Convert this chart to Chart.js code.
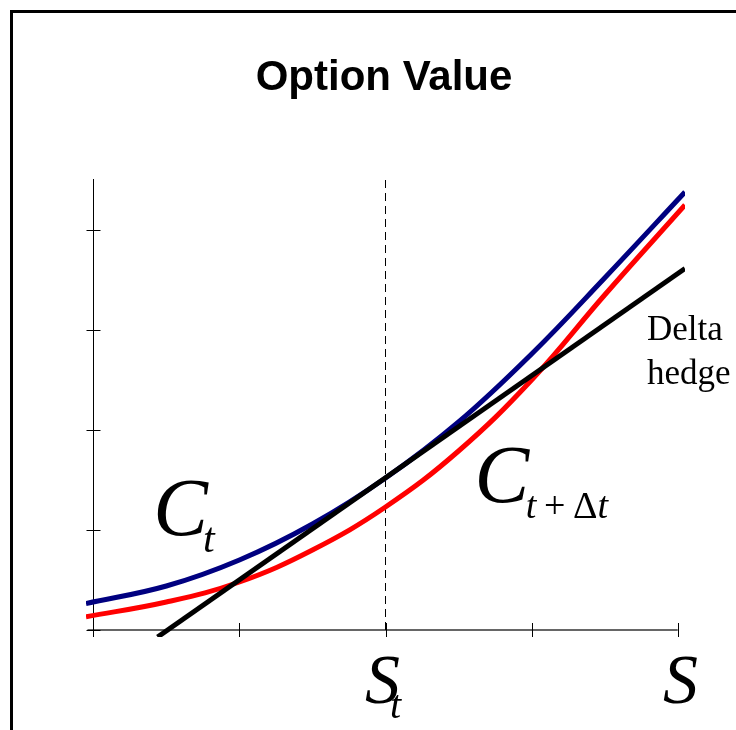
<!DOCTYPE html>
<html>
<head>
<meta charset="utf-8">
<script src="https://cdn.jsdelivr.net/npm/chart.js@4/dist/chart.umd.min.js"></script>
<style>
  html, body { margin: 0; padding: 0; background: #fff; }
  #wrap { width: 736px; height: 730px; }
</style>
</head>
<body>
<div id="wrap"><canvas id="optionChart" width="736" height="730"></canvas></div>
<script>
// values (x: S in tick units, y: option value in tick units)
const blueX = [-0.05, 0.5, 1.0, 1.5, 2.0, 2.5, 3.0, 3.5, 4.05];
const blueY = [0.265, 0.44, 0.70, 1.06, 1.52, 2.08, 2.76, 3.52, 4.38];

const redX = [-0.05, 0.5, 1.0, 1.5, 2.0, 2.5, 3.0, 3.5, 4.05];
const redY = [0.133, 0.28, 0.48, 0.80, 1.23, 1.79, 2.50, 3.35, 4.25];

const hedgeX = [0.44, 4.05];
const hedgeY = [-0.07, 3.615];

const spotX = [2, 2];
const spotY = [0, 4.55];

const xTicks = [0, 1, 2, 3, 4];
const yTicks = [0, 1, 2, 3, 4];

const serif = '"Liberation Serif", "Times New Roman", serif';

// text labels: runs of [text, font] drawn one after another from (x, y)
const labels = [
    { x: 1.99, y: 5.40, align: 'center', runs: [['Option Value', 'bold 42px "Liberation Sans", Arial, sans-serif']] },
    { x: 0.41, y: 0.95, runs: [['C', 'italic 82px ' + serif]] },
    { x: 0.75, y: 0.78, runs: [['t', 'italic 42px ' + serif]] },
    { x: 2.61, y: 1.28, runs: [['C', 'italic 82px ' + serif]] },
    { x: 2.96, y: 1.12, runs: [['t', 'italic 38px ' + serif], ['\u2009+\u2009', '38px ' + serif], ['\u0394', '38px ' + serif], ['t', 'italic 38px ' + serif]] },
    { x: 1.86, y: -0.73, runs: [['S', 'italic 70px ' + serif]] },
    { x: 2.03, y: -0.88, runs: [['t', 'italic 40px ' + serif]] },
    { x: 3.90, y: -0.73, runs: [['S', 'italic 70px ' + serif]] },
    { x: 3.79, y: 2.90, runs: [['Delta', '35px ' + serif]] },
    { x: 3.79, y: 2.46, runs: [['hedge', '35px ' + serif]] }
];

const toPoints = (xs, ys) => xs.map((x, i) => ({ x: x, y: ys[i] }));

// frame and axes drawn by hand, texts placed through the scales
const decor = {
    id: 'decor',
    beforeDraw(chart) {
        const ctx = chart.ctx;
        ctx.save();
        ctx.fillStyle = '#fff';
        ctx.fillRect(0, 0, chart.width, chart.height);
        ctx.strokeStyle = '#000';
        ctx.lineWidth = 3;
        ctx.strokeRect(11.5, 11.5, 900, 900);
        ctx.restore();
    },
    beforeDatasetsDraw(chart) {
        const ctx = chart.ctx;
        const xs = chart.scales.x, ys = chart.scales.y;
        const x0 = xs.getPixelForValue(0), y0 = ys.getPixelForValue(0);
        ctx.save();
        // x axis
        ctx.strokeStyle = '#666';
        ctx.lineWidth = 2;
        ctx.beginPath();
        ctx.moveTo(xs.getPixelForValue(-0.04), y0);
        ctx.lineTo(xs.getPixelForValue(4), y0);
        ctx.stroke();
        ctx.strokeStyle = '#000';
        ctx.lineWidth = 1;
        ctx.beginPath();
        xTicks.forEach(t => {
            const px = Math.round(xs.getPixelForValue(t)) + 0.5;
            ctx.moveTo(px, y0 - 7);
            ctx.lineTo(px, y0 + 7);
        });
        ctx.stroke();
        // y axis
        ctx.beginPath();
        const ax = Math.round(x0) + 0.5;
        ctx.moveTo(ax, ys.getPixelForValue(4.51));
        ctx.lineTo(ax, ys.getPixelForValue(-0.07));
        yTicks.forEach(t => {
            const py = Math.round(ys.getPixelForValue(t)) + 0.5;
            ctx.moveTo(ax - 7, py);
            ctx.lineTo(ax + 7, py);
        });
        ctx.stroke();
        ctx.restore();
    },
    afterDraw(chart) {
        const ctx = chart.ctx;
        const xs = chart.scales.x, ys = chart.scales.y;
        ctx.save();
        ctx.fillStyle = '#000';
        ctx.textBaseline = 'alphabetic';
        ctx.textAlign = 'left';
        labels.forEach(l => {
            let total = 0;
            l.runs.forEach(r => { ctx.font = r[1]; total += ctx.measureText(r[0]).width; });
            let px = xs.getPixelForValue(l.x);
            if (l.align === 'center') px -= total / 2;
            const py = ys.getPixelForValue(l.y);
            l.runs.forEach(r => {
                ctx.font = r[1];
                ctx.fillText(r[0], px, py);
                px += ctx.measureText(r[0]).width;
            });
        });
        ctx.restore();
    }
};

new Chart('optionChart', {
    type: 'scatter',
    data: {
        datasets: [
            {
                label: 'Delta hedge',
                data: toPoints(hedgeX, hedgeY),
                showLine: true,
                borderColor: '#000000',
                borderWidth: 5,
                pointRadius: 0,
                order: 1
            },
            {
                label: 'C t',
                data: toPoints(blueX, blueY),
                showLine: true,
                borderColor: '#000080',
                borderWidth: 5,
                pointRadius: 0,
                tension: 0.4,
                order: 2
            },
            {
                label: 'C t+dt',
                data: toPoints(redX, redY),
                showLine: true,
                borderColor: '#ff0000',
                borderWidth: 5,
                pointRadius: 0,
                tension: 0.4,
                order: 3
            },
            {
                label: 'S t',
                data: toPoints(spotX, spotY),
                showLine: true,
                borderColor: '#000000',
                borderWidth: 1,
                borderDash: [8, 5],
                pointRadius: 0,
                order: 4
            }
        ]
    },
    options: {
        responsive: false,
        animation: false,
        layout: {
            padding: { left: 86, right: 51, top: 180, bottom: 93 }
        },
        plugins: {
            legend: { display: false },
            tooltip: { enabled: false },
            title: { display: false }
        },
        scales: {
            x: { type: 'linear', min: -0.05, max: 4.05, display: false },
            y: { type: 'linear', min: -0.07, max: 4.5, display: false }
        }
    },
    plugins: [decor]
});
</script>
</body>
</html>
